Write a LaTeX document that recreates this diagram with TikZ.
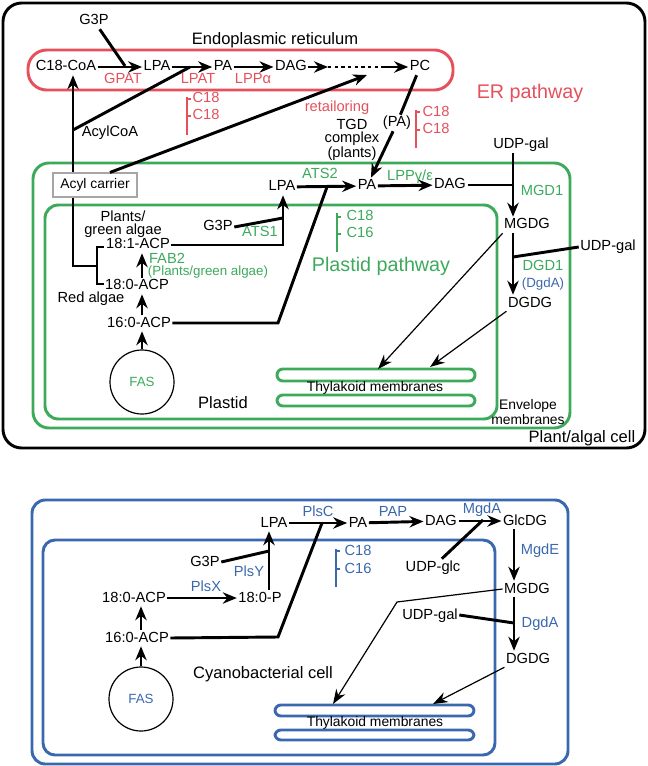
\documentclass[tikz,border=0pt]{standalone}
\usepackage{fontspec}
\setmainfont{Liberation Sans}
\usepackage{tikz}
\usetikzlibrary{calc,arrows.meta}
\definecolor{er_red}{HTML}{E5505C}
\definecolor{pl_green}{HTML}{3DA95B}
\definecolor{cy_blue}{HTML}{3A68AE}

\begin{document}
\begin{tikzpicture}[x=0.75pt,y=-0.75pt,>={Stealth[length=10.5pt,width=8.5pt]},
    txt/.style={font=\fontsize{11}{12}\selectfont,inner sep=1pt,text height=8pt,text depth=2pt},
    multi/.style={font=\fontsize{11}{10}\selectfont,inner sep=1pt,align=center},
    small/.style={font=\fontsize{10}{11}\selectfont,inner sep=1pt},
    big/.style={font=\fontsize{14.8}{16}\selectfont,inner sep=0pt},
    cell/.style={font=\fontsize{12.4}{14}\selectfont,inner sep=0pt},
    flow/.style={->,line width=2.2pt},
    merge/.style={line width=2.2pt},
    thinflow/.style={-{Stealth[length=11pt,width=8pt]},line width=0.9pt},
    frame/.style={line width=2.2pt},
    thyl/.style={line width=2.2pt,rounded corners=4.4pt,fill=white},
    brk/.style={line width=2pt}]
  \useasboundingbox (0,0) rectangle (648,766);

  % plant / algal cell
  \draw[frame,rounded corners=14pt] (3,3) rectangle (645,448);
  \draw[frame,er_red,rounded corners=14pt] (28,50) rectangle (453,90);
  \draw[frame,pl_green,rounded corners=12pt] (33,163) rectangle (570,428);
  \draw[frame,pl_green,rounded corners=10pt] (45,205) rectangle (497,419);

  \node[cell] (er_name) at (275,40) {Endoplasmic reticulum};
  \node[big,er_red] (er_path) at (530,93) {ER pathway};
  \node[big,pl_green] (pl_path) at (381,266) {Plastid pathway};
  \node[cell] (pl_name) at (223,403) {Plastid};
  \node[multi,font=\fontsize{10.4}{11}\selectfont] (env) at (528,412) {Envelope\\membranes};
  \node[cell] (cell_name) at (582,438) {Plant/algal cell};

  % ER
  \node[txt] (g3p_er) at (94,21) {G3P};
  \node[txt] (c18coa) at (66,67) {C18-CoA};
  \node[txt] (lpa_er) at (157,67) {LPA};
  \node[txt] (pa_er) at (223,67) {PA};
  \node[txt] (dag_er) at (291,67) {DAG};
  \node[txt] (pc) at (420,67) {PC};
  \node[txt,er_red] (gpat) at (123,80) {GPAT};
  \node[txt,er_red] (lpat) at (198,80) {LPAT};
  \node[txt,er_red] (lppa) at (253,80) {LPPα};
  \node[txt,er_red] (retail) at (337,108) {retailoring};
  \node[txt] (acylcoa) at (110,133) {AcylCoA};
  \node[txt] (pa_brk) at (397,123) {(PA)};
  \node[multi] (tgd) at (352,140) {TGD\\complex\\(plants)};
  \node[txt,er_red] (er_c1) at (206,99) {C18};
  \node[txt,er_red] (er_c2) at (206,116) {C18};
  \node[txt,er_red] (pa_c1) at (436,113) {C18};
  \node[txt,er_red] (pa_c2) at (436,130) {C18};
  \node[draw=gray!70,fill=white,line width=0.8pt,minimum width=63pt,minimum height=18pt,
    font=\fontsize{10.4}{11}\selectfont,inner sep=0pt] (acyl) at (95,185) {Acyl carrier};

  \coordinate (ax) at (73,0);
  \coordinate (g3p_m) at (125,66);
  \coordinate (acyl_m) at (73,130);
  \coordinate (lpat_m) at (190,67);
  \coordinate (dot_a) at (328,67);
  \coordinate (dot_b) at (383,67);
  \coordinate (retail_m) at (367,75);

  \draw[flow] (c18coa) -- (lpa_er);
  \draw[merge] (g3p_er) -- (g3p_m);
  \draw[flow] (lpa_er) -- (pa_er);
  \draw[flow] (pa_er) -- (dag_er);
  \draw[flow] (dag_er) -- (dot_a);
  \draw[line width=2.2pt,dash pattern=on 2.5pt off 2.5pt] (dot_a) -- (dot_b);
  \draw[flow] (dot_b) -- (pc);
  \draw[flow] (acyl.north -| ax) -- (c18coa.south -| ax);
  \draw[merge] (acyl_m) -- (lpat_m);
  \draw[flow] ($(acyl.north)+(15,0)$) -- (retail_m);
  \draw[merge] (pc) -- (pa_brk);
  \draw[er_red,brk] (187,97) -- (187,135) (187,99) -- (191,99) (187,116) -- (191,116);
  \draw[er_red,brk] (416,110) -- (416,148) (416,112) -- (420,112) (416,130) -- (420,130);

  % plastid
  \node[txt] (lpa_pl) at (282,187) {LPA};
  \node[txt] (pa_pl) at (367,186) {PA};
  \node[txt] (dag_pl) at (450,185) {DAG};
  \node[txt] (udpgal_a) at (521,145) {UDP-gal};
  \node[txt] (mgdg) at (527,225) {MGDG};
  \node[txt] (udpgal_b) at (608,247) {UDP-gal};
  \node[txt] (dgdg) at (530,303) {DGDG};
  \node[txt,pl_green] (ats2) at (320,175) {ATS2};
  \node[txt,pl_green] (lppg) at (410,177) {LPPγ/ε};
  \node[txt,pl_green] (mgd1) at (542,192) {MGD1};
  \node[txt,pl_green] (dgd1) at (543,267) {DGD1};
  \node[small,cy_blue] (dgda_pl) at (543,284) {(DgdA)};
  \node[multi] (plants) at (123,224) {Plants/\\green algae};
  \node[txt] (acp181) at (138,245) {18:1-ACP};
  \node[txt] (acp180) at (137,286) {18:0-ACP};
  \node[txt] (acp160) at (139,323) {16:0-ACP};
  \node[txt] (red) at (91,298) {Red algae};
  \node[txt,pl_green,text depth=0pt] (fab2) at (167,258) {FAB2};
  \node[small,pl_green] (fab2_note) at (208,272) {(Plants/green algae)};
  \node[txt] (g3p_pl) at (218,227) {G3P};
  \node[txt,pl_green] (ats1) at (260,233) {ATS1};
  \node[txt,pl_green] (pl_c1) at (360,217) {C18};
  \node[txt,pl_green] (pl_c2) at (360,234) {C16};
  \node[draw,line width=0.9pt,circle,minimum size=48pt,inner sep=0pt,
    font=\fontsize{10}{11}\selectfont,text=pl_green] (fas_pl) at (142,382) {FAS};

  \coordinate (vx) at (513,0);
  \coordinate (lpa_x) at (283,0);
  \coordinate (g3p_pm) at (283,218);
  \coordinate (k1) at (278,323);
  \coordinate (k2) at (327,187);
  \coordinate (udp_m) at (513,257);
  \coordinate (thy_a) at (378,369);
  \coordinate (thy_b) at (430,367);

  \draw[flow] (lpa_pl) -- (pa_pl);
  \draw[flow] (pa_pl) -- (dag_pl);
  \draw[flow] (pa_brk) -- (pa_pl);
  \draw[flow] (dag_pl.east) -| (mgdg.north -| vx);
  \draw[merge] (udpgal_a.south -| vx) -- (vx |- dag_pl);
  \draw[flow] (mgdg.south -| vx) -- (dgdg.north -| vx);
  \draw[merge] (udpgal_b.west) -- (udp_m);
  \draw[flow] (acp181.east) -| (lpa_pl.south -| lpa_x);
  \draw[merge] (g3p_pl.east) -- (g3p_pm);
  \draw[merge] (acp160.east) -- (k1) -- (k2);
  \draw[flow] (acp180.north -| fas_pl) -- (acp181.south -| fas_pl);
  \draw[flow] (acp160.north -| fas_pl) -- (acp180.south -| fas_pl);
  \draw[flow] (fas_pl) -- (acp160.south -| fas_pl);
  \draw[merge] (acyl.south -| ax) |- (97,266);
  \draw[merge] (104,247) -- (97,247) -- (97,284) -- (104,284);
  \draw[pl_green,brk] (337,213) -- (337,252) (337,217) -- (341,217) (337,234) -- (341,234);

  \draw[pl_green,thyl] (277,369) rectangle (475,381);
  \draw[pl_green,thyl] (277,395) rectangle (475,406);
  \node[font=\fontsize{10.4}{11}\selectfont,inner sep=0pt] (thy_pl) at (375,388) {Thylakoid membranes};
  \draw[thinflow] (mgdg.south west) -- (thy_a);
  \draw[thinflow] (dgdg.south west) -- (thy_b);

  % cyanobacterium
  \draw[frame,cy_blue,rounded corners=10pt] (32,500) rectangle (568,764);
  \draw[frame,cy_blue,rounded corners=9pt] (43,540) rectangle (495,755);

  \node[txt] (c_lpa) at (274,523) {LPA};
  \node[txt] (c_pa) at (358,523) {PA};
  \node[txt] (c_dag) at (441,521) {DAG};
  \node[txt] (c_glcdg) at (525,521) {GlcDG};
  \node[txt] (c_udpglc) at (433,567) {UDP-glc};
  \node[txt] (c_mgdg) at (527,589) {MGDG};
  \node[txt] (c_udpgal) at (430,615) {UDP-gal};
  \node[txt] (c_dgdg) at (528,659) {DGDG};
  \node[txt] (c_acp180) at (134,598) {18:0-ACP};
  \node[txt] (c_acp160) at (137,638) {16:0-ACP};
  \node[txt] (c_p180) at (260,598) {18:0-P};
  \node[txt] (c_g3p) at (205,562) {G3P};
  \node[txt,cy_blue] (plsc) at (318,512) {PlsC};
  \node[txt,cy_blue] (pap) at (393,512) {PAP};
  \node[txt,cy_blue] (mgda) at (482,509) {MgdA};
  \node[txt,cy_blue] (mgde) at (540,550) {MgdE};
  \node[txt,cy_blue] (dgda) at (540,623) {DgdA};
  \node[txt,cy_blue] (plsx) at (206,587) {PlsX};
  \node[txt,cy_blue] (plsy) at (249,572) {PlsY};
  \node[txt,cy_blue] (cy_c1) at (358,551) {C18};
  \node[txt,cy_blue] (cy_c2) at (358,569) {C16};
  \node[cell] (cy_name) at (263,674) {Cyanobacterial cell};
  \node[draw,line width=0.9pt,circle,minimum size=48pt,inner sep=0pt,
    font=\fontsize{10}{11}\selectfont,text=cy_blue] (fas_cy) at (141,699) {FAS};

  \coordinate (cvx) at (514,0);
  \coordinate (p_x) at (269,0);
  \coordinate (glc_m) at (483,520);
  \coordinate (gal_m) at (514,623);
  \coordinate (g3p_cm) at (269,551);
  \coordinate (c_k1) at (278,637);
  \coordinate (c_k2) at (322,523);
  \coordinate (c_bend) at (397,602);
  \coordinate (c_thy_a) at (333,704);
  \coordinate (c_thy_b) at (433,704);

  \draw[flow] (c_lpa) -- (c_pa);
  \draw[flow] (c_pa) -- (c_dag);
  \draw[flow] (c_dag) -- (c_glcdg);
  \draw[merge] (c_udpglc) -- (glc_m);
  \draw[flow] (c_glcdg.south -| cvx) -- (c_mgdg.north -| cvx);
  \draw[flow] (c_mgdg.south -| cvx) -- (c_dgdg.north -| cvx);
  \draw[merge] (c_udpgal.east) -- (gal_m);
  \draw[flow] (c_acp160.north -| fas_cy) -- (c_acp180.south -| fas_cy);
  \draw[flow] (fas_cy) -- (c_acp160.south -| fas_cy);
  \draw[flow] (c_acp180) -- (c_p180);
  \draw[flow] (c_p180.north -| p_x) -- (c_lpa.south -| p_x);
  \draw[merge] (c_g3p.east) -- (g3p_cm);
  \draw[merge] (c_acp160.east) -- (c_k1) -- (c_k2);
  \draw[cy_blue,brk] (336,549) -- (336,587) (336,551) -- (340,551) (336,569) -- (340,569);

  \draw[cy_blue,thyl] (275,705) rectangle (474,716);
  \draw[cy_blue,thyl] (275,730) rectangle (474,740);
  \node[font=\fontsize{10.4}{11}\selectfont,inner sep=0pt] (thy_cy) at (375,723) {Thylakoid membranes};
  \draw[thinflow] (c_mgdg.west) -- (c_bend) -- (c_thy_a);
  \draw[thinflow] (c_dgdg.south west) -- (c_thy_b);
\end{tikzpicture}
\end{document}
